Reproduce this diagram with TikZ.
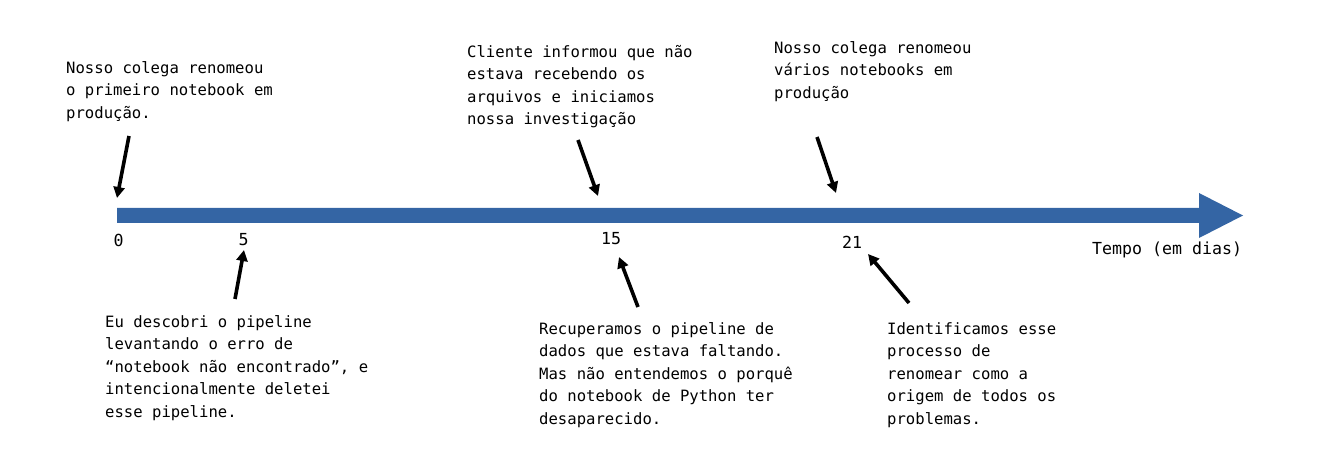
\documentclass[tikz,border=0pt]{standalone}
\usepackage{fontspec}
\setmonofont{DejaVu Sans Mono}
\usepackage{xcolor}
\usepackage{tikz}
\usetikzlibrary{arrows.meta, positioning}
\definecolor{timeblue}{RGB}{52,101,164}

\begin{document}
\begin{tikzpicture}[x=1pt, y=-1pt,
    note/.style={anchor=north west, inner sep=0pt, align=left, font=\ttfamily\fontsize{15.6}{22.5}\selectfont},
    daylbl/.style={anchor=north, inner sep=0pt, font=\ttfamily\fontsize{16.6}{19}\selectfont},
    pointer/.style={-{Triangle[length=11pt, width=11pt]}, line width=3.6pt, black}]
    \useasboundingbox (0,0) rectangle (1323,454);

    % Timeline bar
    \fill[timeblue] (117,208) -- (1199,208) -- (1199,193) -- (1243,215.5)
        -- (1199,238) -- (1199,223) -- (117,223) -- cycle;

    % Day labels
    \node[daylbl] (d0) at (118.5,233.5) {0};
    \node[daylbl] (d5) at (243.5,233.5) {5};
    \node[daylbl] (d15) at (611,232.5) {15};
    \node[daylbl] (d21) at (852,235.5) {21};
    \node[daylbl, anchor=north west] (tempo) at (1092,242) {Tempo (em dias)};

    % Events above the line
    \node[note] (rename1) at (66,61) {Nosso colega renomeou\\o primeiro notebook em\\produção.};
    \node[note] (cliente) at (467,45) {Cliente informou que não\\estava recebendo os\\arquivos e iniciamos\\nossa investigação};
    \node[note] (renameN) at (774,41) {Nosso colega renomeou\\vários notebooks em\\produção};

    % Events below the line
    \node[note] (descobri) at (105,315) {Eu descobri o pipeline\\levantando o erro de\\“notebook não encontrado”, e\\intencionalmente deletei\\esse pipeline.};
    \node[note] (recuperamos) at (539,322) {Recuperamos o pipeline de\\dados que estava faltando.\\Mas não entendemos o porquê\\do notebook de Python ter\\desaparecido.};
    \node[note] (origem) at (887,322) {Identificamos esse\\processo de\\renomear como a\\origem de todos os\\problemas.};

    % Arrow ends
    \coordinate (from0) at (129,136);   \coordinate (to0) at (117,198);
    \coordinate (from5) at (235,299);   \coordinate (to5) at (244,250);
    \coordinate (from15a) at (578,140); \coordinate (to15a) at (598,196);
    \coordinate (from15b) at (638,307); \coordinate (to15b) at (619,257);
    \coordinate (from21a) at (817,137); \coordinate (to21a) at (836,193);
    \coordinate (from21b) at (909,303); \coordinate (to21b) at (868,254);

    % Pointers
    \draw[pointer] (from0) -- (to0);
    \draw[pointer] (from5) -- (to5);
    \draw[pointer] (from15a) -- (to15a);
    \draw[pointer] (from15b) -- (to15b);
    \draw[pointer] (from21a) -- (to21a);
    \draw[pointer] (from21b) -- (to21b);
\end{tikzpicture}
\end{document}
